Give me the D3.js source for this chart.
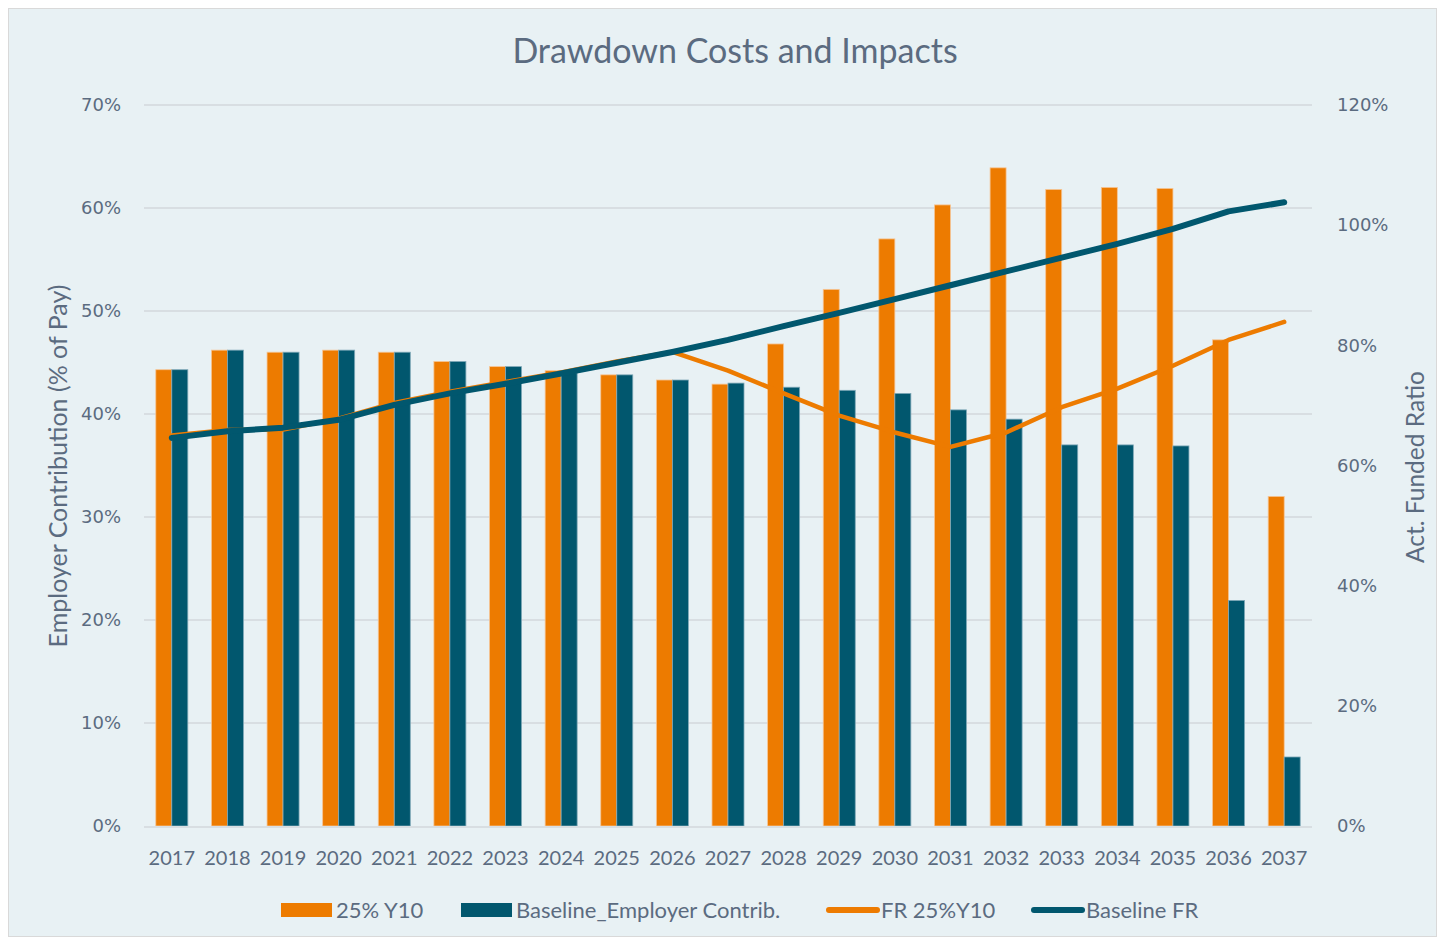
<!DOCTYPE html>
<html>
<head>
<meta charset="utf-8">
<script src="https://cdn.jsdelivr.net/npm/d3@7"></script>
<style>
  html, body { margin: 0; padding: 0; background: #ffffff; }
  svg { display: block; }
</style>
</head>
<body>
<svg id="chart" width="1445" height="945"></svg>
<script>
// Projection years
const years = ["2017","2018","2019","2020","2021","2022","2023","2024","2025","2026",
               "2027","2028","2029","2030","2031","2032","2033","2034","2035","2036","2037"];

// Employer contribution, % of pay (left axis)
const contribDrawdown = [44.3, 46.2, 46.0, 46.2, 46.0, 45.1, 44.6, 44.2, 43.8, 43.3,
                         42.9, 46.8, 52.1, 57.0, 60.3, 63.9, 61.8, 62.0, 61.9, 47.2, 32.0];
const contribBaseline = [44.3, 46.2, 46.0, 46.2, 46.0, 45.1, 44.6, 44.0, 43.8, 43.3,
                         43.0, 42.6, 42.3, 42.0, 40.4, 39.5, 37.0, 37.0, 36.9, 21.9, 6.7];

// Actuarial funded ratio, % (right axis)
const frDrawdown = [65.0, 65.9, 66.0, 67.8, 70.4, 72.3, 73.9, 75.5, 77.3, 78.9,
                    75.8, 72.0, 68.3, 65.5, 63.1, 65.5, 69.7, 72.8, 76.6, 80.9, 83.9];
const frBaseline = [64.6, 65.7, 66.3, 67.6, 70.1, 72.0, 73.6, 75.3, 77.1, 78.9,
                    80.9, 83.2, 85.4, 87.7, 90.0, 92.3, 94.6, 96.9, 99.4, 102.3, 103.8];

// Tick values for both value axes
const leftTicks = [0, 10, 20, 30, 40, 50, 60, 70];
const rightTicks = [0, 20, 40, 60, 80, 100, 120];

const seriesNames = ["25% Y10", "Baseline_Employer Contrib.", "FR 25%Y10", "Baseline FR"];

const ORANGE = "#ED7B00";
const TEAL = "#01576E";
const TEXT = "#5B6B80";
const GRID = "#D8DEE2";
const FONT = "Lato, 'Open Sans', sans-serif";
const TICKFONT = "'DejaVu Sans', Verdana, sans-serif";

const svg = d3.select("#chart");
const W = 1445, H = 945;
const plot = { left: 144, right: 1312, top: 105, bottom: 826 };

// chart background panel
svg.append("rect")
  .attr("x", 8.5).attr("y", 8.5)
  .attr("width", W - 17).attr("height", H - 17)
  .attr("fill", "#E8F1F4")
  .attr("stroke", "#D9D9D9").attr("stroke-width", 1);

// scales
const p = 1 - 32 / 55.6;
const x = d3.scaleBand().domain(years)
  .range([plot.left, plot.right])
  .paddingInner(p).paddingOuter(p / 2);
const xSub = d3.scaleBand().domain(["drawdown", "baseline"]).range([0, x.bandwidth()]);
const yL = d3.scaleLinear().domain([0, 70]).range([plot.bottom, plot.top]);
const yR = d3.scaleLinear().domain([0, 120]).range([plot.bottom, plot.top]);

// gridlines
svg.append("g")
  .selectAll("line").data(leftTicks.filter(d => d > 0)).join("line")
  .attr("x1", plot.left).attr("x2", plot.right)
  .attr("y1", d => yL(d)).attr("y2", d => yL(d))
  .attr("stroke", GRID).attr("stroke-width", 2);

// left axis labels
const axL = svg.append("g").attr("transform", `translate(${plot.left - 20},0)`)
  .call(d3.axisLeft(yL).tickValues(leftTicks).tickFormat(d => d + "%").tickSize(0));
axL.select(".domain").remove();
axL.selectAll("text")
  .attr("fill", TEXT)
  .style("font-family", TICKFONT)
  .style("font-size", "18px");

// right axis labels
const axR = svg.append("g").attr("transform", `translate(${plot.right + 22},0)`)
  .call(d3.axisRight(yR).tickValues(rightTicks).tickFormat(d => d + "%").tickSize(0));
axR.select(".domain").remove();
axR.selectAll("text")
  .attr("fill", TEXT)
  .style("font-family", TICKFONT)
  .style("font-size", "18px");

// bars
const barData = years.map((yr, i) => ({ yr, drawdown: contribDrawdown[i], baseline: contribBaseline[i] }));
const groups = svg.append("g").selectAll("g").data(barData).join("g")
  .attr("transform", d => `translate(${x(d.yr)},0)`);
groups.append("rect")
  .attr("x", xSub("drawdown")).attr("width", xSub.bandwidth())
  .attr("y", d => yL(d.drawdown)).attr("height", d => yL(0) - yL(d.drawdown))
  .attr("fill", ORANGE).attr("stroke", "#F6C595").attr("stroke-width", 0.8);
groups.append("rect")
  .attr("x", xSub("baseline")).attr("width", xSub.bandwidth())
  .attr("y", d => yL(d.baseline)).attr("height", d => yL(0) - yL(d.baseline))
  .attr("fill", TEAL).attr("stroke", "#7FA8B7").attr("stroke-width", 0.8);

// x axis baseline
svg.append("line")
  .attr("x1", plot.left).attr("x2", plot.right)
  .attr("y1", plot.bottom + 1).attr("y2", plot.bottom + 1)
  .attr("stroke", GRID).attr("stroke-width", 2);

// x axis labels
const axX = svg.append("g").attr("transform", `translate(0,${plot.bottom + 22})`)
  .call(d3.axisBottom(x).tickSize(0));
axX.select(".domain").remove();
axX.selectAll("text")
  .attr("fill", TEXT)
  .style("font-family", FONT)
  .style("font-size", "20px");

// funded ratio lines
const cx = yr => x(yr) + x.bandwidth() / 2;
const line = d3.line().x(d => cx(d.yr)).y(d => yR(d.v));
svg.append("path")
  .datum(years.map((yr, i) => ({ yr, v: frDrawdown[i] })))
  .attr("d", line).attr("fill", "none")
  .attr("stroke", ORANGE).attr("stroke-width", 4.5)
  .attr("stroke-linecap", "round").attr("stroke-linejoin", "round");
svg.append("path")
  .datum(years.map((yr, i) => ({ yr, v: frBaseline[i] })))
  .attr("d", line).attr("fill", "none")
  .attr("stroke", TEAL).attr("stroke-width", 6)
  .attr("stroke-linecap", "round").attr("stroke-linejoin", "round");

// title
svg.append("text")
  .attr("x", 735).attr("y", 63)
  .attr("text-anchor", "middle")
  .attr("fill", TEXT)
  .style("font-family", FONT)
  .style("font-size", "34px")
  .text("Drawdown Costs and Impacts");

// axis titles
svg.append("text")
  .attr("transform", "translate(67,466) rotate(-90)")
  .attr("text-anchor", "middle")
  .attr("fill", TEXT)
  .style("font-family", FONT)
  .style("font-size", "25px")
  .text("Employer Contribution (% of Pay)");
svg.append("text")
  .attr("transform", "translate(1424,467) rotate(-90)")
  .attr("text-anchor", "middle")
  .attr("fill", TEXT)
  .style("font-family", FONT)
  .style("font-size", "24.5px")
  .text("Act. Funded Ratio");

// legend
const legendY = 910;
const legendItems = [
  { name: seriesNames[0], type: "rect", color: ORANGE, x: 281 },
  { name: seriesNames[1], type: "rect", color: TEAL, x: 461 },
  { name: seriesNames[2], type: "line", color: ORANGE, x: 826 },
  { name: seriesNames[3], type: "line", color: TEAL, x: 1031 }
];
const lg = svg.append("g").selectAll("g").data(legendItems).join("g")
  .attr("transform", d => `translate(${d.x},${legendY})`);
lg.filter(d => d.type === "rect").append("rect")
  .attr("x", 0).attr("y", -7).attr("width", 51).attr("height", 14)
  .attr("fill", d => d.color);
lg.filter(d => d.type === "line").append("line")
  .attr("x1", 3).attr("x2", 51).attr("y1", 0).attr("y2", 0)
  .attr("stroke", d => d.color).attr("stroke-width", 6)
  .attr("stroke-linecap", "round");
lg.append("text")
  .attr("x", 55).attr("y", 7.5)
  .attr("fill", TEXT)
  .style("font-family", FONT)
  .style("font-size", "22px")
  .text(d => d.name);
</script>
</body>
</html>
